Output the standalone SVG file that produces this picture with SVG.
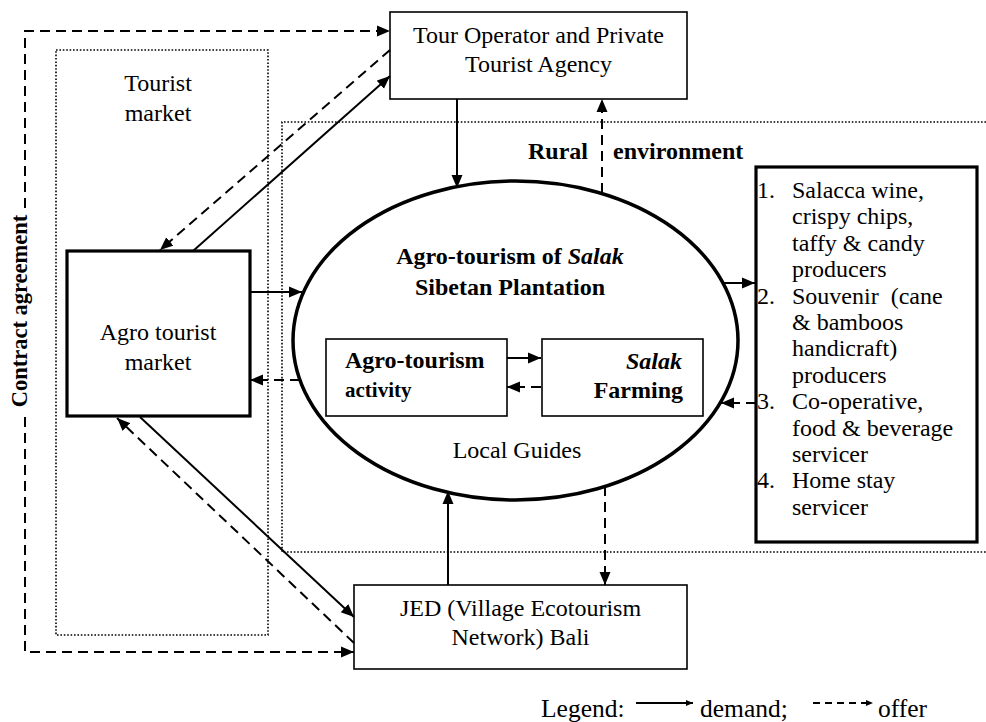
<svg xmlns="http://www.w3.org/2000/svg" width="986" height="722" viewBox="0 0 986 722">
<defs>
<marker id="ah" markerUnits="userSpaceOnUse" markerWidth="14" markerHeight="12" refX="13" refY="5.5" orient="auto" viewBox="0 0 14 11">
<path d="M0,0 L13,5.5 L0,11 z" fill="#000"/>
</marker>
<marker id="ahs" markerUnits="userSpaceOnUse" markerWidth="8" markerHeight="8" refX="7" refY="3" orient="auto" viewBox="0 0 8 6">
<path d="M0,0 L7,3 L0,6 z" fill="#000"/>
</marker>
<style>
text{font-family:"Liberation Serif","Times New Roman",serif;font-size:24px;fill:#000}
.b{font-weight:bold}
.c{text-anchor:middle}
.e{text-anchor:end}
.lg{font-size:25.5px}
.box{fill:#fff;stroke:#000;stroke-width:1.6}
.thick{fill:#fff;stroke:#000;stroke-width:3.2}
.dot{fill:none;stroke:#000;stroke-width:1.6;stroke-dasharray:1.6 1.8}
.sol{fill:none;stroke:#000;stroke-width:2;marker-end:url(#ah)}
.das{fill:none;stroke:#000;stroke-width:2;stroke-dasharray:10 6;marker-end:url(#ah)}
</style>
</defs>

<g id="zones">
<rect class="dot" x="56" y="50" width="212" height="585"/>
<path class="dot" d="M986,122 H282 V552 H986"/>
</g>

<g id="tourist-market-label">
<text class="c" x="158" y="91">Tourist</text>
<text class="c" x="158" y="121">market</text>
</g>

<g id="rural-label">
<text class="b" x="528" y="159">Rural</text>
<text class="b" x="613" y="159">environment</text>
</g>

<g id="contract-label">
<text class="b c" style="font-size:22.5px" transform="translate(27,311) rotate(-90)">Contract agreement</text>
</g>

<g id="tour-operator">
<rect class="box" x="390" y="12" width="297" height="87"/>
<text class="c" x="538.5" y="43">Tour Operator and Private</text>
<text class="c" x="538.5" y="72">Tourist Agency</text>
</g>

<g id="agro-tourist-market">
<rect class="thick" x="67" y="251" width="183" height="165"/>
<text class="c" x="158" y="340">Agro tourist</text>
<text class="c" x="158" y="370">market</text>
</g>

<g id="plantation">
<ellipse cx="515.5" cy="340.5" rx="222.5" ry="159.5" fill="none" stroke="#000" stroke-width="3.5"/>
<text class="b c" x="510" y="264">Agro-tourism of <tspan font-style="italic">Salak</tspan></text>
<text class="b c" x="510" y="295">Sibetan Plantation</text>
<text class="c" x="517" y="458">Local Guides</text>
</g>

<g id="agro-activity">
<rect class="box" x="326" y="339" width="181" height="77"/>
<text class="b" x="345" y="368">Agro-tourism</text>
<text class="b" x="345" y="397" style="font-size:21px">activity</text>
</g>

<g id="salak-farming">
<rect class="box" x="542" y="339" width="161" height="77"/>
<text class="b e" x="682" y="369" font-style="italic">Salak</text>
<text class="b e" x="683" y="398">Farming</text>
</g>

<g id="producers">
<rect class="thick" x="756" y="167" width="221" height="375"/>
<text x="757" y="198">1.</text><text x="792" y="198">Salacca wine,</text>
<text x="792" y="224.4">crispy chips,</text>
<text x="792" y="250.8">taffy &amp; candy</text>
<text x="792" y="277.2">producers</text>
<text x="757" y="303.6">2.</text><text x="792" y="303.6">Souvenir&#160; (cane</text>
<text x="792" y="330">&amp; bamboos</text>
<text x="792" y="356.4">handicraft)</text>
<text x="792" y="382.8">producers</text>
<text x="757" y="409.2">3.</text><text x="792" y="409.2">Co-operative,</text>
<text x="792" y="435.6">food &amp; beverage</text>
<text x="792" y="462">servicer</text>
<text x="757" y="488.4">4.</text><text x="792" y="488.4">Home stay</text>
<text x="792" y="514.8">servicer</text>
</g>

<g id="jed">
<rect class="box" x="354" y="585" width="333" height="84"/>
<text class="c" x="520.5" y="616">JED (Village Ecotourism</text>
<text class="c" x="520.5" y="645">Network) Bali</text>
</g>

<g id="connectors">
<path class="das" d="M25,208 V31 H390"/>
<path class="das" d="M25,417 V652 H354"/>
<path class="sol" d="M193,251 L390,76"/>
<path class="das" d="M390,50 L160,250"/>
<path class="sol" d="M140,417 L354,617"/>
<path class="das" d="M354,643 L117,418"/>
<path class="sol" d="M457,99 V188"/>
<path class="das" d="M602,193 V99"/>
<path class="sol" d="M250,292 H302"/>
<path class="das" d="M300,380 H250"/>
<path class="sol" d="M723,283 H755"/>
<path class="das" d="M756,403 H721"/>
<path class="sol" d="M507,358 H541"/>
<path class="das" d="M541,387 H507"/>
<path class="sol" d="M448,585 V491"/>
<path class="das" d="M605,486 V585"/>
</g>

<g id="legend">
<text class="lg" x="541" y="717">Legend:</text>
<path d="M636,703 H693" fill="none" stroke="#000" stroke-width="2" marker-end="url(#ahs)"/>
<text class="lg" x="700" y="717">demand;</text>
<path d="M813,703 H873" fill="none" stroke="#000" stroke-width="2" stroke-dasharray="7 5" marker-end="url(#ahs)"/>
<text class="lg" x="878" y="717">offer</text>
</g>
</svg>
